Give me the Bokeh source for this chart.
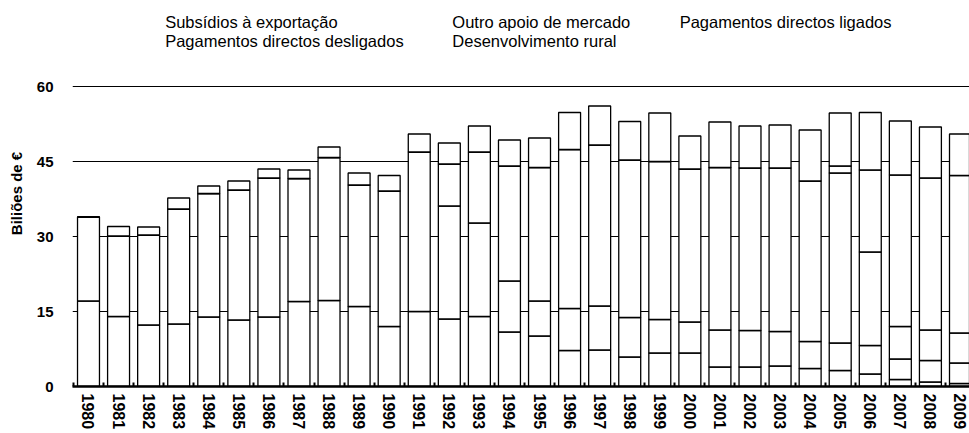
from bokeh.plotting import figure
from bokeh.models import Range1d, FixedTicker, Label, ColumnDataSource
from bokeh.embed import file_html
from bokeh.resources import INLINE

# ---------------- data (billions of EUR) ----------------
years = list(range(1980, 2010))
subsidios_exportacao = [17.1, 14.0, 12.3, 12.5, 13.9, 13.3, 13.9, 17.0, 17.2, 16.0,
                        12.0, 15.0, 13.5, 14.0, 10.9, 10.1, 7.2, 7.3, 5.9, 6.7,
                        6.7, 3.9, 3.9, 4.1, 3.6, 3.2, 2.5, 1.4, 0.9, 0.6]
outro_apoio_mercado = [16.8, 16.1, 18.0, 23.0, 24.7, 26.0, 27.8, 24.6, 28.6, 24.3,
                       27.1, 31.9, 22.6, 18.7, 10.2, 7.0, 8.4, 8.8, 7.9, 6.7,
                       6.2, 7.4, 7.3, 6.9, 5.4, 5.5, 5.7, 4.1, 4.3, 4.1]
pag_directos_ligados = [0, 0, 0, 0, 0, 0, 0, 0, 0, 0,
                        0, 0, 8.4, 14.2, 23.0, 26.7, 31.8, 32.2, 31.5, 31.6,
                        30.6, 32.5, 32.5, 32.7, 32.1, 34.0, 18.7, 6.5, 6.1, 6.0]
pag_directos_desligados = [0, 0, 0, 0, 0, 0, 0, 0, 0, 0,
                           0, 0, 0, 0, 0, 0, 0, 0, 0, 0,
                           0, 0, 0, 0, 0, 1.4, 16.4, 30.3, 30.4, 31.5]
desenvolvimento_rural = [0, 1.9, 1.6, 2.2, 1.5, 1.8, 1.8, 1.7, 2.1, 2.4,
                         3.1, 3.6, 4.2, 5.2, 5.2, 5.9, 7.4, 7.8, 7.7, 9.7,
                         6.6, 9.1, 8.4, 8.6, 10.2, 10.6, 11.5, 10.8, 10.2, 8.3]

series_keys = ["exp", "oam", "pdl", "pdd", "dr"]
series_labels = ["Subsídios à exportação", "Outro apoio de mercado",
                 "Pagamentos directos ligados", "Pagamentos directos desligados",
                 "Desenvolvimento rural"]
y_ticks = [0, 15, 30, 45, 60]
y_axis_title = "Biliões de €"

# ---------------- build ----------------
xpos = [y - years[0] for y in years]
src = ColumnDataSource(dict(x=xpos, exp=subsidios_exportacao, oam=outro_apoio_mercado,
                            pdl=pag_directos_ligados, pdd=pag_directos_desligados,
                            dr=desenvolvimento_rural))

FONT = "Liberation Sans, Arial, Helvetica, sans-serif"

# frame: left 72px, right 969px, top 0px, bottom 386px; 5px per unit on y
p = figure(width=969, height=433, output_backend="svg", toolbar_location=None,
           x_range=Range1d(-0.532, 29.30), y_range=Range1d(0, 77.2),
           min_border_left=72, min_border_right=0, min_border_top=0, min_border_bottom=47)
p.outline_line_color = None
p.background_fill_color = "white"
p.border_fill_color = "white"

p.vbar_stack(series_keys, x="x", width=0.73, source=src,
             fill_color="white", line_color="black", line_width=1.3)

# grid
p.xgrid.visible = False
p.ygrid.ticker = FixedTicker(ticks=y_ticks[1:])
p.ygrid.grid_line_color = "black"
p.ygrid.grid_line_width = 1

# y axis
p.yaxis.ticker = FixedTicker(ticks=y_ticks)
p.yaxis.axis_line_color = None
p.yaxis.major_tick_line_color = None
p.yaxis.major_tick_out = 0
p.yaxis.major_tick_in = 0
p.yaxis.minor_tick_line_color = None
p.yaxis.minor_tick_out = 0
p.yaxis.major_label_standoff = 19
p.yaxis.major_label_text_font = FONT
p.yaxis.major_label_text_font_style = "bold"
p.yaxis.major_label_text_font_size = "15px"
p.yaxis.major_label_text_color = "black"
p.yaxis.axis_label = y_axis_title
p.yaxis.axis_label_text_font = FONT
p.yaxis.axis_label_text_font_style = "bold"
p.yaxis.axis_label_text_font_size = "15px"
p.yaxis.axis_label_text_color = "black"
p.yaxis.axis_label_standoff = 9

# x axis
p.xaxis.ticker = FixedTicker(ticks=xpos, minor_ticks=[i - 0.5 for i in range(len(years) + 1)])
p.xaxis.major_label_overrides = {x: str(y) for x, y in zip(xpos, years)}
p.xaxis.major_label_orientation = "vertical"
p.xaxis.major_tick_line_color = None
p.xaxis.major_tick_out = 0
p.xaxis.major_tick_in = 0
p.xaxis.minor_tick_in = 4
p.xaxis.minor_tick_out = 0
p.xaxis.minor_tick_line_width = 2
p.xaxis.minor_tick_line_color = "black"
p.xaxis.axis_line_width = 2.5
p.xaxis.axis_line_color = "black"
p.xaxis.major_label_standoff = 7
p.xaxis.major_label_text_font = FONT
p.xaxis.major_label_text_font_style = "bold"
p.xaxis.major_label_text_font_size = "16px"
p.xaxis.major_label_text_color = "black"

# legend (text only, as in the reference), placed in the free band above the 60 line
legend_pos = [(2.55, 73.0), (12.10, 73.0), (19.66, 73.0), (2.55, 69.2), (12.10, 69.2)]
for lab, (lx, ly) in zip(series_labels, legend_pos):
    p.add_layout(Label(x=lx, y=ly, text=lab, text_font=FONT,
                       text_font_size="16.5px", text_color="black",
                       text_baseline="alphabetic", text_align="left"))

open("out.html", "w").write(file_html(p, INLINE))
